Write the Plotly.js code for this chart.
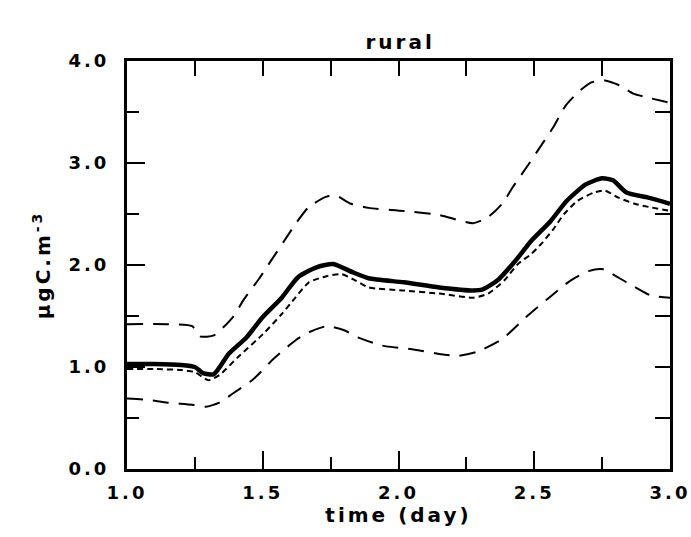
<!DOCTYPE html>
<html>
<head>
<meta charset="utf-8">
<script src="https://cdn.plot.ly/plotly-3.0.1.min.js"></script>
<style>
html,body{margin:0;padding:0;background:#fff;}
#chart{width:691px;height:537px;}
#chart text{letter-spacing:3px;}
</style>
</head>
<body>
<div id="chart"></div>
<script>
// central estimate (thick solid)
const tSolid = [1.00,1.10,1.20,1.25,1.28,1.32,1.375,1.44,1.50,1.57,1.63,1.70,1.76,1.83,1.89,2.02,2.15,2.275,2.31,2.365,2.43,2.49,2.56,2.62,2.69,2.75,2.79,2.84,2.92,3.00];
const vSolid = [1.03,1.03,1.02,1.00,0.94,0.93,1.13,1.29,1.49,1.68,1.88,1.98,2.01,1.93,1.87,1.83,1.78,1.75,1.76,1.85,2.04,2.24,2.43,2.63,2.79,2.85,2.83,2.71,2.66,2.60];
// short-dashed
const tShort = [1.00,1.10,1.20,1.25,1.30,1.34,1.41,1.50,1.57,1.62,1.67,1.735,1.79,1.84,1.89,2.02,2.15,2.275,2.33,2.39,2.44,2.49,2.53,2.57,2.61,2.66,2.72,2.76,2.81,2.87,2.92,3.00];
const vShort = [0.98,0.98,0.97,0.95,0.87,0.92,1.10,1.32,1.52,1.68,1.83,1.89,1.91,1.85,1.78,1.75,1.72,1.68,1.72,1.85,2.01,2.11,2.22,2.35,2.50,2.63,2.71,2.73,2.66,2.60,2.57,2.53];
// upper bound (long dashes)
const tUpper = [1.00,1.15,1.24,1.27,1.32,1.39,1.43,1.485,1.53,1.58,1.62,1.67,1.735,1.77,1.825,1.89,2.02,2.15,2.275,2.33,2.385,2.42,2.48,2.53,2.57,2.615,2.66,2.71,2.76,2.815,2.865,2.92,3.00];
const vUpper = [1.42,1.42,1.40,1.30,1.31,1.49,1.66,1.86,2.04,2.24,2.40,2.57,2.67,2.68,2.60,2.56,2.53,2.49,2.41,2.47,2.61,2.76,2.99,3.19,3.35,3.56,3.69,3.79,3.81,3.76,3.68,3.64,3.59];
// lower bound (long dashes)
const tLower = [1.00,1.07,1.15,1.24,1.29,1.34,1.39,1.465,1.54,1.62,1.67,1.735,1.80,1.85,1.94,2.06,2.17,2.22,2.29,2.38,2.47,2.55,2.635,2.70,2.75,2.84,2.93,3.00];
const vLower = [0.69,0.68,0.65,0.63,0.61,0.65,0.74,0.88,1.08,1.26,1.34,1.40,1.36,1.29,1.21,1.17,1.12,1.11,1.15,1.27,1.49,1.67,1.85,1.94,1.96,1.83,1.70,1.68];

const xTickVals = [1.0,1.5,2.0,2.5,3.0];
const xTickText = ['1.0','1.5','2.0','2.5','3.0'];
const yTickVals = [0,1,2,3,4];
const yTickText = ['0.0','1.0','2.0','3.0','4.0'];

const fnt = {family:'DejaVu Sans, Liberation Sans, sans-serif', size:18, color:'#000', weight:'bold'};
const tfnt = {family:'DejaVu Sans, Liberation Sans, sans-serif', size:20, color:'#000', weight:'bold'};

const traces = [
  {x:tUpper, y:vUpper, mode:'lines', line:{color:'#000', width:2, dash:'16px,10px', shape:'spline', smoothing:0.6}},
  {x:tLower, y:vLower, mode:'lines', line:{color:'#000', width:2, dash:'16px,10px', shape:'spline', smoothing:0.6}},
  {x:tShort, y:vShort, mode:'lines', line:{color:'#000', width:2, dash:'6px,4px', shape:'spline', smoothing:0.6}},
  {x:tSolid, y:vSolid, mode:'lines', line:{color:'#000', width:4.5, shape:'spline', smoothing:0.6}}
];

const layout = {
  width:691, height:537,
  margin:{l:127, r:21, t:61, b:68},
  paper_bgcolor:'#fff', plot_bgcolor:'#fff',
  showlegend:false,
  font:fnt,
  title:{text:'rural', font:tfnt, x:0.579, xanchor:'center', yref:'container', y:1-42/537, yanchor:'middle'},
  xaxis:{
    range:[1,3], tickvals:xTickVals, ticktext:xTickText,
    ticks:'inside', ticklen:18, tickwidth:2, tickcolor:'#000',
    minor:{tickvals:[1.25,1.75,2.25,2.75], ticks:'inside', ticklen:12, tickwidth:2, tickcolor:'#000'},
    showline:true, linewidth:3, linecolor:'#000', mirror:true,
    showgrid:false, zeroline:false, tickfont:fnt, ticklabelstandoff:5,
    title:{text:'time (day)', font:tfnt, standoff:6}
  },
  yaxis:{
    range:[0,4], tickvals:yTickVals, ticktext:yTickText,
    ticks:'inside', ticklen:18, tickwidth:2, tickcolor:'#000',
    minor:{tickvals:[0.5,1.5,2.5,3.5], ticks:'inside', ticklen:12, tickwidth:2, tickcolor:'#000'},
    showline:true, linewidth:3, linecolor:'#000', mirror:true,
    showgrid:false, zeroline:false, tickfont:fnt, ticklabelstandoff:11,
    title:{text:'µgC.m<sup>-3</sup>', font:tfnt, standoff:22}
  },
  xaxis2:{
    overlaying:'x', side:'top', range:[1,3], anchor:'y',
    tickvals:[1.25,1.5,1.75,2.0,2.25,2.5,2.75], ticks:'inside', ticklen:15, tickwidth:2, tickcolor:'#000',
    showticklabels:false, showgrid:false, zeroline:false, showline:false
  },
  yaxis2:{
    overlaying:'y', side:'right', range:[0,4], anchor:'x',
    tickvals:[0.5,1,1.5,2,2.5,3,3.5], ticks:'inside', ticklen:15, tickwidth:2, tickcolor:'#000',
    showticklabels:false, showgrid:false, zeroline:false, showline:false
  }
};

// invisible helper traces so the mirrored tick axes are drawn
traces.push({x:[1,3], y:[0,4], xaxis:'x2', yaxis:'y', mode:'markers', marker:{opacity:0}, hoverinfo:'skip'});
traces.push({x:[1,3], y:[0,4], xaxis:'x', yaxis:'y2', mode:'markers', marker:{opacity:0}, hoverinfo:'skip'});

Plotly.newPlot('chart', traces, layout, {displayModeBar:false, staticPlot:true});
</script>
</body>
</html>
